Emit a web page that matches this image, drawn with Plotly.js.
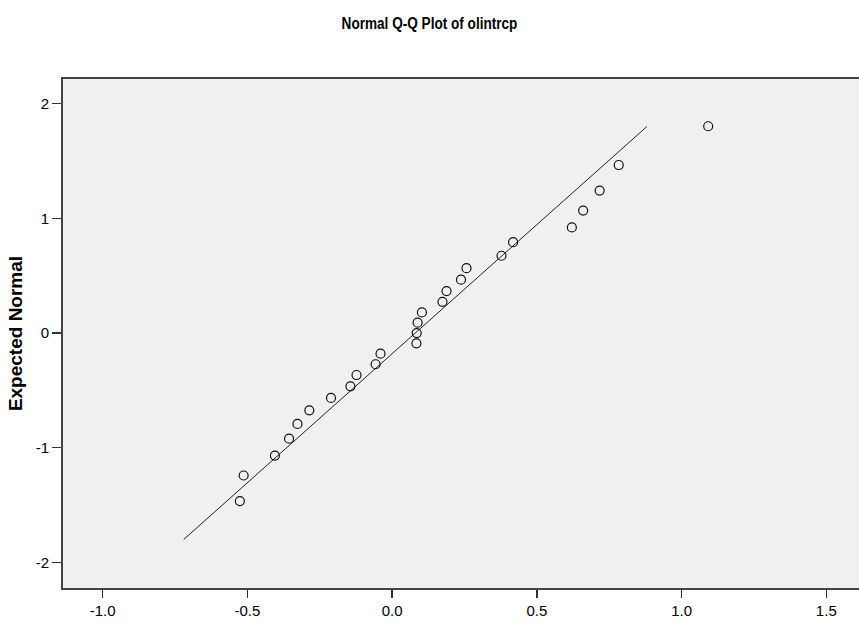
<!DOCTYPE html>
<html>
<head>
<meta charset="utf-8">
<script src="https://cdn.plot.ly/plotly-3.0.1.min.js"></script>
<style>html,body{margin:0;padding:0;background:#fff;}#chart{width:859px;height:623px;}</style>
</head>
<body>
<div id="chart"></div>
<script>
// Observed values (x) and expected normal quantiles (y)
const observedValues = [-0.526, -0.513, -0.405, -0.356, -0.327, -0.286, -0.211, -0.144, -0.123, -0.057, -0.040, 0.084, 0.085, 0.088, 0.103, 0.174, 0.188, 0.238, 0.257, 0.378, 0.418, 0.621, 0.660, 0.717, 0.783, 1.092];
const expectedNormal = [-1.465, -1.242, -1.068, -0.921, -0.792, -0.674, -0.566, -0.465, -0.366, -0.272, -0.180, -0.090, 0.000, 0.090, 0.180, 0.272, 0.366, 0.465, 0.566, 0.674, 0.792, 0.921, 1.068, 1.242, 1.465, 1.803];
// Reference line end points
const lineX = [-0.72, 0.88];
const lineY = [-1.80, 1.80];
// Tick labels
const xTickVals = [-1.0, -0.5, 0.0, 0.5, 1.0, 1.5];
const xTickText = ["-1.0", "-0.5", "0.0", "0.5", "1.0", "1.5"];
const yTickVals = [-2, -1, 0, 1, 2];
const yTickText = ["-2", "-1", "0", "1", "2"];

const FONT = "Liberation Sans, Arial, sans-serif";

const traces = [
  {
    x: lineX, y: lineY, mode: "lines", type: "scatter",
    line: {color: "#222222", width: 1}, hoverinfo: "skip", showlegend: false
  },
  {
    x: observedValues, y: expectedNormal, mode: "markers", type: "scatter",
    marker: {symbol: "circle-open", size: 9, color: "#111111", line: {width: 1.2, color: "#111111"}},
    showlegend: false
  }
];

const layout = {
  width: 859, height: 623,
  margin: {l: 63, r: 0, t: 79, b: 35, pad: 0},
  paper_bgcolor: "#ffffff",
  plot_bgcolor: "#f0f0f0",
  font: {family: FONT, color: "#000000", size: 15},
  title: {
    text: "<b>Normal Q-Q Plot of olintrcp</b>",
    font: {family: FONT, size: 17, color: "#000000"},
    x: 0.5, xref: "container", xanchor: "center",
    y: 1 - 23/623, yref: "container", yanchor: "middle"
  },
  xaxis: {
    range: [-1.137, 1.613],
    tickmode: "array", tickvals: xTickVals, ticktext: xTickText,
    ticks: "outside", ticklen: 8, tickwidth: 1.5, tickcolor: "#333333",
    showline: true, linecolor: "#444444", linewidth: 2, mirror: true,
    showgrid: false, zeroline: false,
    tickfont: {family: FONT, size: 15, color: "#000000"}
  },
  yaxis: {
    range: [-2.223, 2.215],
    tickmode: "array", tickvals: yTickVals, ticktext: yTickText,
    ticks: "outside", ticklen: 9, tickwidth: 1.5, tickcolor: "#333333",
    showline: true, linecolor: "#444444", linewidth: 2, mirror: false,
    showgrid: false, zeroline: false,
    tickfont: {family: FONT, size: 15, color: "#000000"},
    title: {text: "<b>Expected Normal</b>", font: {family: FONT, size: 19, color: "#000000"}, standoff: 8}
  }
};

function condenseTitle(gd) {
  // the reference uses a condensed bold face: narrow the title horizontally about its centre
  const t = gd.querySelector(".gtitle");
  if (!t) return;
  const cx = parseFloat(t.getAttribute("x")) || 429.5;
  t.setAttribute("transform", "translate(" + cx + ",0) scale(0.8,1) translate(" + (-cx) + ",0)");
}

Plotly.newPlot("chart", traces, layout, {displayModeBar: false, staticPlot: true}).then(function (gd) {
  condenseTitle(gd);
  gd.on("plotly_afterplot", function () { condenseTitle(gd); });
});
</script>
</body>
</html>
